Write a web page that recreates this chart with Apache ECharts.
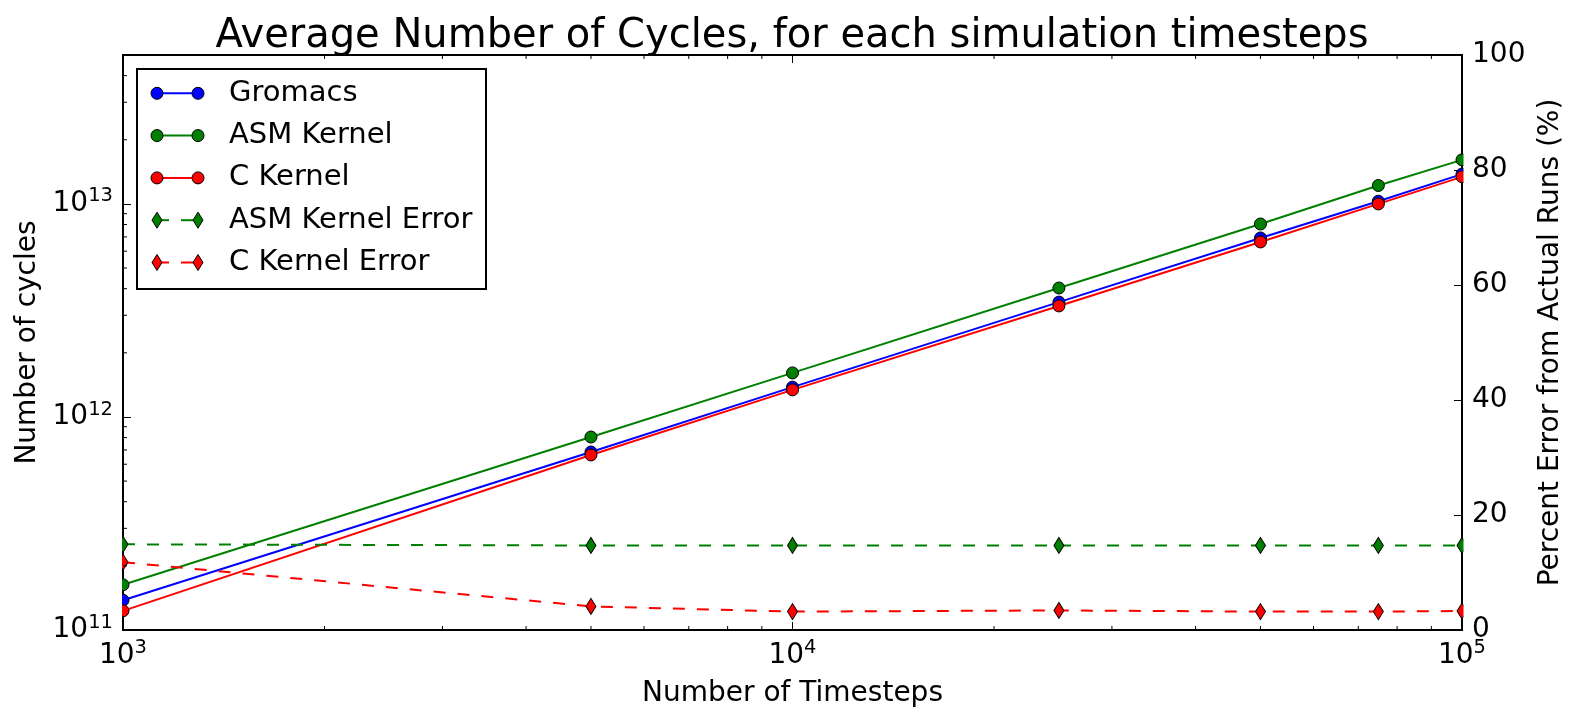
<!DOCTYPE html>
<html><head><meta charset="utf-8">
<script src="https://cdn.jsdelivr.net/npm/echarts@6/dist/echarts.min.js"></script>
<style>html,body{margin:0;padding:0;background:#fff}#c{width:1576px;height:723px}</style>
</head><body><div id="c"></div>
<script>
// ---- data ----
const timesteps = [1000, 5000, 10000, 25000, 50000, 75000, 100000];
const gromacs   = [1.38e11, 6.85e11, 1.38e12, 3.46e12, 6.92e12, 1.03e13, 1.38e13];
const asmKernel = [1.63e11, 8.05e11, 1.61e12, 4.03e12, 8.05e12, 1.22e13, 1.61e13];
const cKernel   = [1.23e11, 6.63e11, 1.34e12, 3.32e12, 6.63e12, 1.00e13, 1.34e13];
const asmError  = [14.9, 14.7, 14.7, 14.7, 14.7, 14.7, 14.7];
const cError    = [11.8, 4.1, 3.2, 3.4, 3.2, 3.2, 3.3];
const seriesNames = ['Gromacs', 'ASM Kernel', 'C Kernel', 'ASM Kernel Error', 'C Kernel Error'];
const seriesColors = ['#0000ff', '#008000', '#ff0000', '#008000', '#ff0000'];
const titleText = 'Average Number of Cycles, for each simulation timesteps';
const xName = 'Number of Timesteps';
const yLeftName = 'Number of cycles';
const yRightName = 'Percent Error from Actual Runs (%)';
const xMajorTicks = [1000, 10000, 100000];
const xMinorTicks = [2000, 3000, 4000, 5000, 6000, 7000, 8000, 9000,
                     20000, 30000, 40000, 50000, 60000, 70000, 80000, 90000];
const yMinorTicks = [2e11, 3e11, 4e11, 5e11, 6e11, 7e11, 8e11, 9e11,
                     2e12, 3e12, 4e12, 5e12, 6e12, 7e12, 8e12, 9e12,
                     2e13, 3e13, 4e13];
const xMin = 1000, xMax = 100000, yMin = 1e11, yMax = 5e13;
const rMin = 0, rMax = 100, rStep = 20;

// ---- chart ----
const FONT = 'DejaVu Sans';
const chart = echarts.init(document.getElementById('c'), null, {renderer: 'canvas'});
const G = {left: 123, right: 114, top: 55, bottom: 93};

function powLabel(v) {
  return '{b|10}{s|' + Math.round(Math.log10(v)) + '}';
}
const powRich = {
  b: {fontSize: 28, fontFamily: FONT, color: '#000'},
  s: {fontSize: 19.5, fontFamily: FONT, color: '#000', padding: [0, 0, 15, 0]}
};

function lineSeries(name, data, color, yIdx, dashed) {
  return {
    type: 'line', name: name, xAxisIndex: 0, yAxisIndex: yIdx,
    data: timesteps.map((t, i) => [t, data[i]]),
    symbol: dashed ? 'diamond' : 'circle',
    symbolSize: dashed ? [10, 16] : 12,
    showSymbol: true, showAllSymbol: true, clip: true,
    lineStyle: {color: color, width: 2, type: dashed ? [12, 12] : 'solid'},
    itemStyle: {color: color, borderColor: '#000', borderWidth: 1},
    emphasis: {disabled: true},
    z: dashed ? 4 : 3
  };
}

const allTicks = [].concat(yMinorTicks, xMinorTicks, xMajorTicks);
const tickSeries = {
  type: 'custom', name: 'minorTicks', xAxisIndex: 0, yAxisIndex: 0, silent: true, clip: false, z: 6,
  data: allTicks.map((v, i) => [i, v]),
  renderItem: function (params, api) {
    const i = params.dataIndex;
    const kind = i < yMinorTicks.length ? 'y' : (i < yMinorTicks.length + xMinorTicks.length ? 'x' : 't');
    const v = allTicks[i];
    const len = kind === 't' ? 8 : 4;
    const st = {stroke: '#000', lineWidth: 1};
    if (kind === 'y') {
      const p = api.coord([xMin, v]);
      return {type: 'line', shape: {x1: p[0], y1: p[1], x2: p[0] + len, y2: p[1]}, style: st};
    }
    const pb = api.coord([v, yMin]);
    const pt = api.coord([v, yMax]);
    const children = [{type: 'line', shape: {x1: pt[0], y1: pt[1], x2: pt[0], y2: pt[1] + len}, style: st}];
    if (kind === 'x') children.push({type: 'line', shape: {x1: pb[0], y1: pb[1], x2: pb[0], y2: pb[1] - len}, style: st});
    return {type: 'group', children: children};
  }
};

// legend drawn with graphic elements (matplotlib style: two markers per sample)
const LX = 137, LY = 69, LW = 349, LH = 220, rowGap = 42.3, row0 = 93.3;
const legendEls = [{type: 'rect', shape: {x: LX, y: LY, width: LW, height: LH},
  style: {fill: '#fff', stroke: '#000', lineWidth: 2}, z: 50}];
seriesNames.forEach((name, i) => {
  const y = row0 + i * rowGap;
  const dashed = i >= 3;
  const c = seriesColors[i];
  legendEls.push({type: 'line', shape: {x1: 157, y1: y, x2: 198, y2: y},
    style: {stroke: c, lineWidth: 2, lineDash: dashed ? [12, 12] : null}, z: 51});
  [157, 198].forEach(x => {
    if (dashed) {
      legendEls.push({type: 'polygon', shape: {points: [[x, y - 8], [x + 5, y], [x, y + 8], [x - 5, y]]},
        style: {fill: c, stroke: '#000', lineWidth: 1}, z: 52});
    } else {
      legendEls.push({type: 'circle', shape: {cx: x, cy: y, r: 6},
        style: {fill: c, stroke: '#000', lineWidth: 1}, z: 52});
    }
  });
  legendEls.push({type: 'text', x: 229, y: y, style: {text: name, fontSize: 29, fontFamily: FONT,
    fill: '#000', verticalAlign: 'middle', align: 'left'}, z: 52});
});
// masks to clip edge markers like the original
legendEls.push({type: 'rect', shape: {x: 113, y: 50, width: 9, height: 579}, style: {fill: '#fff'}, z: 40});
legendEls.push({type: 'rect', shape: {x: 1463.5, y: 50, width: 7, height: 579}, style: {fill: '#fff'}, z: 40});

const option = {
  animation: false,
  backgroundColor: '#fff',
  title: {text: titleText, left: 787, top: 12, textAlign: 'center',
    textStyle: {fontSize: 40, fontWeight: 'normal', fontFamily: FONT, color: '#000'}},
  grid: {left: G.left, right: G.right, top: G.top, bottom: G.bottom, show: true,
    borderColor: '#000', borderWidth: 2, backgroundColor: 'transparent'},
  xAxis: [{
    type: 'log', logBase: 10, min: xMin, max: xMax,
    name: xName, nameLocation: 'middle', nameGap: 50,
    nameTextStyle: {fontSize: 28, fontFamily: FONT, color: '#000'},
    axisLine: {show: false},
    axisTick: {show: true, inside: true, length: 8, lineStyle: {color: '#000', width: 1}},
    axisLabel: {formatter: powLabel, rich: powRich, margin: 8, showMinLabel: true, showMaxLabel: true},
    splitLine: {show: false}, minorTick: {show: false}
  }],
  yAxis: [{
    type: 'log', logBase: 10, min: yMin, max: yMax, position: 'left',
    name: yLeftName, nameLocation: 'middle', nameGap: 81,
    nameTextStyle: {fontSize: 28, fontFamily: FONT, color: '#000'},
    axisLine: {show: false},
    axisTick: {show: true, inside: true, length: 8, lineStyle: {color: '#000', width: 1}},
    axisLabel: {formatter: powLabel, rich: powRich, margin: 10, showMaxLabel: false},
    splitLine: {show: false}
  }, {
    type: 'value', min: rMin, max: rMax, interval: rStep, position: 'right',
    name: yRightName, nameLocation: 'middle', nameGap: 67,
    nameTextStyle: {fontSize: 28, fontFamily: FONT, color: '#000'},
    axisLine: {show: false},
    axisTick: {show: true, inside: true, length: 8, lineStyle: {color: '#000', width: 1}},
    axisLabel: {fontSize: 28, fontFamily: FONT, color: '#000', margin: 10},
    splitLine: {show: false}
  }],
  graphic: {elements: legendEls},
  series: [
    lineSeries(seriesNames[0], gromacs, seriesColors[0], 0, false),
    lineSeries(seriesNames[1], asmKernel, seriesColors[1], 0, false),
    lineSeries(seriesNames[2], cKernel, seriesColors[2], 0, false),
    lineSeries(seriesNames[3], asmError, seriesColors[3], 1, true),
    lineSeries(seriesNames[4], cError, seriesColors[4], 1, true),
    tickSeries
  ]
};
chart.setOption(option);
</script>
</body></html>
